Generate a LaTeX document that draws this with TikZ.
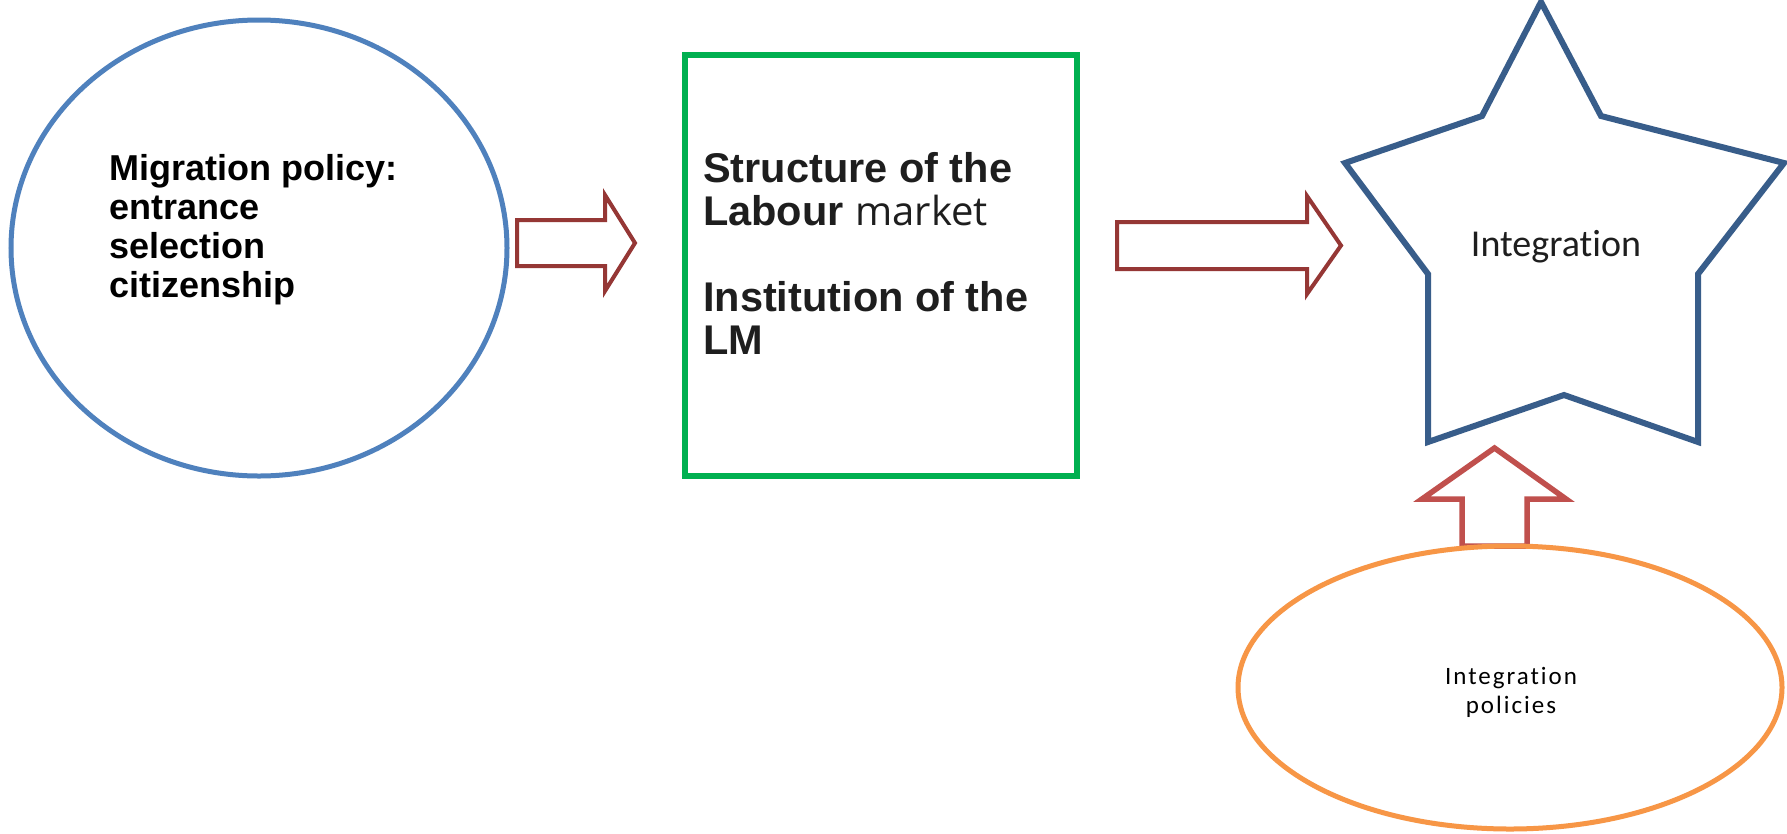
\documentclass[tikz,border=0pt]{standalone}
\usepackage{fontspec}
\setmainfont{Liberation Sans}
\newfontfamily\calfont[Ligatures=NoCommon]{Carlito}
\newfontfamily\mktfont{Open Sans}
\newfontfamily\calspfont[LetterSpace=8,Ligatures=NoCommon]{Carlito}
\usetikzlibrary{shapes.geometric}
\definecolor{circblue}{RGB}{79,129,189}
\definecolor{boxgreen}{RGB}{0,176,80}
\definecolor{arrred}{RGB}{149,55,53}
\definecolor{upred}{RGB}{192,80,77}
\definecolor{starblue}{RGB}{56,93,138}
\definecolor{ellorange}{RGB}{247,150,70}
\definecolor{textgray}{RGB}{30,30,30}
\tikzset{
  blockarrow/.style={draw=arrred, line width=4, fill=white, line join=miter},
  txt/.style={anchor=north west, align=left, inner sep=0},
}
\begin{document}
\begin{tikzpicture}[x=1pt,y=-1pt]
\useasboundingbox (0,0) rectangle (1787,833);
\fill[white] (0,0) rectangle (1787,833);

% left circle
\node (mig) [ellipse, draw=circblue, line width=5, minimum width=496, minimum height=456, inner sep=0] at (259,248) {};
\node (migtxt) [txt, font=\bfseries\fontsize{36}{39}\selectfont] at (109,154) {Migration policy:\\entrance\\selection\\citizenship};

% green box
\node (lm) [draw=boxgreen, line width=5.5, minimum width=392, minimum height=421, inner sep=0] at (881,265.5) {};
\node (lmtxt) [txt, text=textgray, font=\fontsize{41.5}{43}\selectfont] at (703,152) {\bfseries Structure of the\\\bfseries Labour {\mdseries\mktfont\fontsize{40}{43}\selectfont market}\\[43pt]\bfseries Institution of the\\\bfseries LM};

% arrow 1
\draw[blockarrow] (517,220) -- (605,220) -- (605,195) -- (635,243) -- (605,291) -- (605,266) -- (517,266) -- cycle;
% arrow 2
\draw[blockarrow] (1117,222) -- (1307,222) -- (1307,196) -- (1341,245.5) -- (1307,294) -- (1307,269) -- (1117,269) -- cycle;

% star
\draw[starblue, line width=6, line join=miter]
  (1541,2) -- (1601,116) -- (1784,163) -- (1698,274) -- (1698,442) -- (1564,395)
  -- (1428,442) -- (1428,274) -- (1345,163) -- (1482,116) -- cycle;
\node (integ) [text=textgray, font=\calfont\fontsize{38}{40}\selectfont, inner sep=0] at (1556,247) {Integration};

% up arrow
\draw[draw=upred, line width=5.5, fill=white, line join=miter]
  (1462,546) -- (1462,499) -- (1422,499) -- (1494.5,448) -- (1566,499) -- (1527,499) -- (1527,546) -- cycle;

% orange ellipse
\node (pol) [ellipse, draw=ellorange, line width=5, minimum width=544, minimum height=283, inner sep=0] at (1510,687.5) {};
\node (poltxt) [align=center, inner sep=0, font=\calspfont\fontsize{25}{29}\selectfont] at (1511,692) {Integration\\policies};
\end{tikzpicture}
\end{document}
